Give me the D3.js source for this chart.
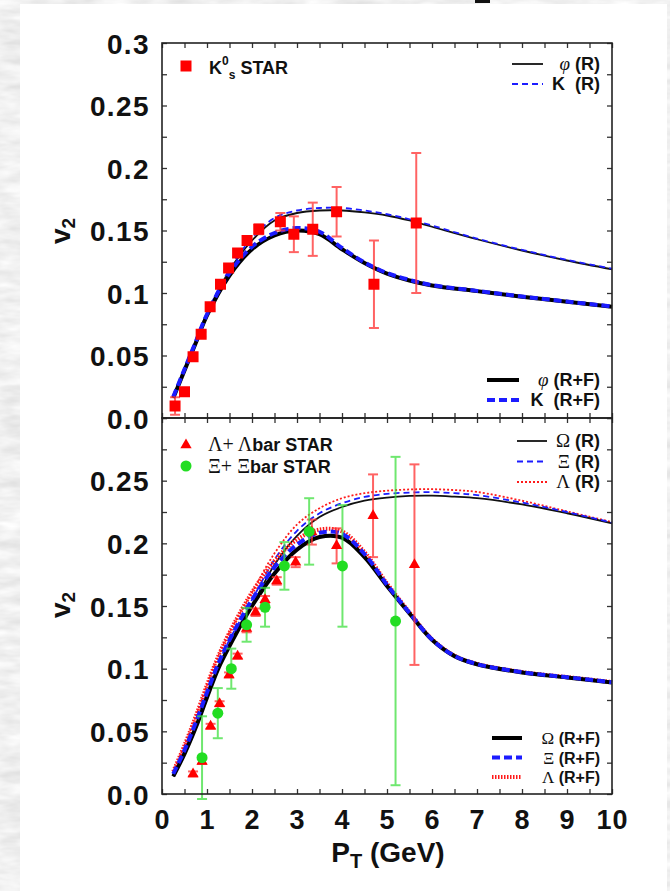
<!DOCTYPE html>
<html lang="en">
<head>
<meta charset="UTF-8">
<title>v2 vs pT</title>
<script src="https://d3js.org/d3.v7.min.js"></script>
<style>
  body { margin: 0; background: #dcdcdc; }
  svg { display: block; }
  text { font-family: "Liberation Sans", Arial, sans-serif; font-weight: bold; fill: #111; white-space: pre; }
  .greek { font-family: "Liberation Serif", "DejaVu Serif", serif; font-weight: normal; }
</style>
</head>
<body>
<svg id="chart" width="670" height="891"></svg>
<script>
// ---- axis ticks / labels ----
const xTickVals = [0, 1, 2, 3, 4, 5, 6, 7, 8, 9, 10];
const yTickValsTop = [0, 0.05, 0.1, 0.15, 0.2, 0.25, 0.3];
const yTickLabelsTop = ["0.0", "0.05", "0.1", "0.15", "0.2", "0.25", "0.3"];
const yTickValsBot = [0, 0.05, 0.1, 0.15, 0.2, 0.25];
const yTickLabelsBot = ["0.0", "0.05", "0.1", "0.15", "0.2", "0.25"];

// ---- top panel: K0s STAR data ----
const k0sPt  = [0.29, 0.5, 0.69, 0.87, 1.07, 1.3, 1.48, 1.68, 1.89, 2.15, 2.63, 2.93, 3.35, 3.88, 4.71, 5.65];
const k0sV2  = [0.0096, 0.021, 0.049, 0.067, 0.089, 0.107, 0.120, 0.132, 0.142, 0.151, 0.157, 0.147, 0.151, 0.165, 0.107, 0.156];
const k0sErr = [0.007, 0.003, 0.002, 0.002, 0.002, 0.002, 0.002, 0.003, 0.003, 0.004, 0.007, 0.0143, 0.0213, 0.0198, 0.035, 0.056];

// ---- top panel: model curves ----
const ptTop     = [0.25, 0.5, 0.75, 1, 1.5, 2, 2.5, 3, 3.5, 4, 4.5, 5, 5.5, 6, 7, 8, 9, 10];
const phiR      = [0.017, 0.039, 0.061, 0.083, 0.118, 0.142, 0.158, 0.164, 0.166, 0.166, 0.1645, 0.162, 0.158, 0.153, 0.143, 0.134, 0.126, 0.119];
const kaonR     = [0.018, 0.040, 0.062, 0.084, 0.119, 0.144, 0.160, 0.166, 0.168, 0.168, 0.166, 0.163, 0.159, 0.154, 0.1435, 0.1345, 0.1265, 0.1195];
const phiRF     = [0.016, 0.038, 0.060, 0.082, 0.114, 0.135, 0.146, 0.150, 0.147, 0.135, 0.124, 0.1155, 0.110, 0.106, 0.1015, 0.097, 0.093, 0.089];
const kaonRF    = [0.017, 0.039, 0.061, 0.083, 0.116, 0.137, 0.148, 0.152, 0.149, 0.136, 0.1245, 0.116, 0.1105, 0.1063, 0.1017, 0.0972, 0.0932, 0.0892];

// ---- bottom panel: STAR data ----
const lamPt  = [0.69, 0.89, 1.08, 1.28, 1.49, 1.68, 1.88, 2.08, 2.29, 2.55, 2.97, 3.33, 3.88, 4.69, 5.61];
const lamV2  = [0.016, 0.026, 0.054, 0.072, 0.095, 0.110, 0.132, 0.145, 0.155, 0.170, 0.185, 0.209, 0.198, 0.222, 0.183];
const lamErr = [0.002, 0.002, 0.002, 0.002, 0.002, 0.002, 0.003, 0.003, 0.003, 0.003, 0.004, 0.010, 0.014, 0.033, 0.080];
const xiPt   = [0.89, 1.24, 1.54, 1.88, 2.29, 2.72, 3.27, 4.01, 5.19];
const xiV2   = [0.029, 0.0645, 0.100, 0.135, 0.149, 0.182, 0.2095, 0.182, 0.138];
const xiErr  = [0.033, 0.020, 0.016, 0.0135, 0.0155, 0.019, 0.0265, 0.0485, 0.131];

// ---- bottom panel: model curves ----
const ptBot     = [0.25, 0.5, 0.75, 1, 1.25, 1.5, 2, 2.5, 3, 3.5, 4, 4.5, 5, 5.5, 6, 6.5, 7, 8, 9, 10];
const omegaR    = [0.014, 0.032, 0.053, 0.077, 0.100, 0.118, 0.150, 0.183, 0.206, 0.221, 0.229, 0.234, 0.2365, 0.2378, 0.238, 0.2372, 0.236, 0.231, 0.224, 0.216];
const xiR       = [0.016, 0.035, 0.057, 0.081, 0.104, 0.123, 0.155, 0.187, 0.210, 0.224, 0.232, 0.237, 0.2395, 0.2405, 0.2408, 0.240, 0.2385, 0.2325, 0.225, 0.2165];
const lambdaR   = [0.018, 0.039, 0.062, 0.087, 0.110, 0.129, 0.161, 0.192, 0.215, 0.228, 0.236, 0.240, 0.242, 0.243, 0.2432, 0.2425, 0.241, 0.234, 0.2255, 0.217];
const omegaRF   = [0.014, 0.032, 0.053, 0.077, 0.100, 0.118, 0.150, 0.176, 0.195, 0.205, 0.2045, 0.189, 0.166, 0.144, 0.123, 0.110, 0.1035, 0.097, 0.093, 0.089];
const xiRF      = [0.016, 0.035, 0.057, 0.081, 0.104, 0.123, 0.155, 0.181, 0.199, 0.2085, 0.2075, 0.1915, 0.167, 0.1445, 0.1233, 0.1102, 0.1037, 0.0972, 0.0932, 0.0892];
const lambdaRF  = [0.018, 0.039, 0.062, 0.087, 0.110, 0.129, 0.161, 0.186, 0.203, 0.211, 0.2095, 0.193, 0.168, 0.145, 0.1236, 0.1104, 0.1038, 0.0973, 0.0933, 0.0893];

// ---- legends ----
const legTopR  = [["\u03c6", " (R)"], ["K", "  (R)"]];
const legTopRF = [["\u03c6", " (R+F)"], ["K", "  (R+F)"]];
const legBotR  = [["\u03a9", " (R)"], ["\u039e", " (R)"], ["\u039b", " (R)"]];
const legBotRF = [["\u03a9", " (R+F)"], ["\u039e", " (R+F)"], ["\u039b", " (R+F)"]];

const svg = d3.select("#chart");

// textured grey background + white sheet
const defs = svg.append("defs");
const f = defs.append("filter").attr("id", "marble").attr("x", 0).attr("y", 0).attr("width", 1).attr("height", 1);
f.append("feTurbulence").attr("type", "fractalNoise").attr("baseFrequency", "0.03 0.1").attr("numOctaves", 3).attr("seed", 4);
f.append("feColorMatrix").attr("type", "matrix")
  .attr("values", "0.35 0 0 0 0.70  0.35 0 0 0 0.70  0.35 0 0 0 0.70  0 0 0 0 1");
svg.append("rect").attr("width", 670).attr("height", 891).attr("filter", "url(#marble)");
svg.append("rect").attr("x", 20).attr("y", 4).attr("width", 647).attr("height", 887).attr("fill", "#fff");
svg.append("rect").attr("x", 475).attr("y", 0).attr("width", 15).attr("height", 3).attr("fill", "#111");

// scales
const x = d3.scaleLinear().domain([0, 10]).range([162, 612]);
const yTop = d3.scaleLinear().domain([0, 0.3]).range([418, 43]);
const yBot = d3.scaleLinear().domain([0, 0.3]).range([794, 418]);

const BLUE = "#1c1cff", RED = "#ff1a1a";

function panel(y, yVals, yLabels, showX) {
  const g = svg.append("g");
  const [y0, y1] = y.range();
  const minorX = d3.range(0, 10.001, 0.5);
  const minorY = d3.range(0, 0.3001, 0.025);

  g.append("g").attr("transform", `translate(0,${y0})`)
    .call(d3.axisBottom(x).tickValues(minorX).tickSize(-5).tickFormat(""));
  g.append("g").attr("transform", `translate(0,${y1})`)
    .call(d3.axisTop(x).tickValues(minorX).tickSize(-5).tickFormat(""));
  g.append("g").attr("transform", `translate(${x(0)},0)`)
    .call(d3.axisLeft(y).tickValues(minorY).tickSize(-5).tickFormat(""));
  g.append("g").attr("transform", `translate(${x(10)},0)`)
    .call(d3.axisRight(y).tickValues(minorY).tickSize(-5).tickFormat(""));
  g.selectAll(".domain").remove();
  g.selectAll(".tick line").attr("stroke", "#333").attr("stroke-width", 1.3);

  const yl = g.append("g").attr("transform", `translate(${x(0)},0)`)
    .call(d3.axisLeft(y).tickValues(yVals).tickSize(0).tickPadding(12)
      .tickFormat((d, i) => yLabels[i]));
  yl.select(".domain").remove();
  yl.selectAll("text").attr("font-size", 28).attr("font-family", null).style("letter-spacing", "1.4px")
    .attr("dy", "0.36em");

  if (showX) {
    const xl = g.append("g").attr("transform", `translate(0,${y0})`)
      .call(d3.axisBottom(x).tickValues(xTickVals).tickSize(0).tickPadding(16).tickFormat(d3.format("d")));
    xl.select(".domain").remove();
    xl.selectAll("text").attr("font-size", 27).attr("font-family", null).style("letter-spacing", "1px");
  }
  return g;
}

function curve(y, xs, ys, color, width, dash) {
  const line = d3.line().x(d => x(d[0])).y(d => y(d[1])).curve(d3.curveCatmullRom.alpha(0.5));
  svg.append("path").datum(d3.zip(xs, ys)).attr("d", line)
    .attr("fill", "none").attr("stroke", color).attr("stroke-width", width)
    .attr("stroke-dasharray", dash || null).attr("stroke-linejoin", "round");
}

function errorBars(y, xs, ys, es, color) {
  const g = svg.append("g").attr("stroke", color).attr("stroke-width", 2).attr("opacity", 0.75);
  xs.forEach((v, i) => {
    const cx = x(v), top = y(ys[i] + es[i]), bot = y(ys[i] - es[i]);
    g.append("line").attr("x1", cx).attr("x2", cx).attr("y1", top).attr("y2", bot);
    g.append("line").attr("x1", cx - 5).attr("x2", cx + 5).attr("y1", top).attr("y2", top);
    g.append("line").attr("x1", cx - 5).attr("x2", cx + 5).attr("y1", bot).attr("y2", bot);
  });
}

function markers(y, xs, ys, type, size, color) {
  svg.append("g").selectAll("path").data(d3.zip(xs, ys)).join("path")
    .attr("transform", d => `translate(${x(d[0])},${y(d[1])})`)
    .attr("d", d3.symbol().type(type).size(size))
    .attr("fill", color);
}

function lineLegend(items, x1, x2, xEnd, yStart, step, styles, fs) {
  items.forEach((it, i) => {
    const yy = yStart + i * step, s = styles[i];
    svg.append("line").attr("x1", x1).attr("x2", x2).attr("y1", yy).attr("y2", yy)
      .attr("stroke", s[0]).attr("stroke-width", s[1]).attr("stroke-dasharray", s[2] || null);
    const t = svg.append("text").attr("x", xEnd).attr("y", yy + 6).attr("text-anchor", "end").attr("font-size", fs);
    const g = t.append("tspan").text(it[0]);
    if (it[0] !== "K") {
      g.attr("class", "greek").attr("font-size", fs + 1)
        .style("font-style", it[0] === "\u03c6" ? "italic" : "normal");
    }
    t.append("tspan").text(it[1]);
  });
}

// ---- top panel ----
panel(yTop, yTickValsTop, yTickLabelsTop, false);
curve(yTop, ptTop, phiR, "#111", 1.8);
curve(yTop, ptTop, kaonR, BLUE, 1.8, "6,4");
curve(yTop, ptTop, phiRF, "#000", 4);
curve(yTop, ptTop, kaonRF, BLUE, 4, "8,4");
errorBars(yTop, k0sPt, k0sV2, k0sErr, "#ff3030");
markers(yTop, k0sPt, k0sV2, d3.symbolSquare, 121, "#ff0000");

// ---- bottom panel ----
panel(yBot, yTickValsBot, yTickLabelsBot, true);
curve(yBot, ptBot, lambdaR, RED, 1.8, "2,2");
curve(yBot, ptBot, omegaR, "#111", 1.8);
curve(yBot, ptBot, xiR, BLUE, 1.8, "6,4");
curve(yBot, ptBot, lambdaRF, RED, 4, "1.5,1.5");
curve(yBot, ptBot, omegaRF, "#000", 4);
curve(yBot, ptBot, xiRF, BLUE, 4, "8,4");
errorBars(yBot, lamPt, lamV2, lamErr, "#ff3030");
errorBars(yBot, xiPt, xiV2, xiErr, "#40e040");
markers(yBot, lamPt, lamV2, d3.symbolTriangle, 55, "#ff0000");
markers(yBot, xiPt, xiV2, d3.symbolCircle, 95, "#22dd22");

// frames
[yTop, yBot].forEach(y => {
  svg.append("rect").attr("x", x(0)).attr("y", y(0.3)).attr("width", x(10) - x(0)).attr("height", y(0) - y(0.3))
    .attr("fill", "none").attr("stroke", "#222").attr("stroke-width", 1.6);
});

// ---- legends ----
lineLegend(legTopR, 512, 543, 600, 64, 20, [["#111", 1.8], [BLUE, 1.8, "6,4"]], 18);
lineLegend(legTopRF, 487, 519, 600, 380, 20, [["#000", 4], [BLUE, 4, "8,4"]], 18);
lineLegend(legBotR, 517, 547, 600, 441, 20.5, [["#111", 1.8], [BLUE, 1.8, "6,4"], [RED, 1.8, "2,2"]], 18);
lineLegend(legBotRF, 492, 522, 600, 738, 19.5, [["#000", 4], [BLUE, 4, "8,4"], [RED, 4, "1.5,1.5"]], 16);

// symbol legends
svg.append("path").attr("transform", "translate(186,66)").attr("d", d3.symbol().type(d3.symbolSquare).size(121)).attr("fill", "#ff0000");
const k0 = svg.append("text").attr("x", 209).attr("y", 74).attr("font-size", 18);
k0.append("tspan").text("K");
k0.append("tspan").attr("dy", -9).attr("font-size", 12).text("0");
k0.append("tspan").attr("dy", 14).attr("font-size", 12).text("s");
k0.append("tspan").attr("dy", -5).text(" STAR");

svg.append("path").attr("transform", "translate(186,445)").attr("d", d3.symbol().type(d3.symbolTriangle).size(55)).attr("fill", "#ff0000");
const lt = svg.append("text").attr("x", 208).attr("y", 451).attr("font-size", 18);
lt.append("tspan").attr("class", "greek").attr("font-size", 20).text("\u039b+ \u039b");
lt.append("tspan").text("bar STAR");

svg.append("circle").attr("cx", 186).attr("cy", 466).attr("r", 5.5).attr("fill", "#22dd22");
const xt = svg.append("text").attr("x", 208).attr("y", 473).attr("font-size", 18);
xt.append("tspan").attr("class", "greek").attr("font-size", 20).text("\u039e+ \u039e");
xt.append("tspan").text("bar STAR");

// ---- axis titles ----
const xTitle = svg.append("text").attr("x", 388).attr("y", 862).attr("text-anchor", "middle").attr("font-size", 28);
xTitle.append("tspan").text("P");
xTitle.append("tspan").attr("dy", 6).attr("font-size", 20).text("T");
xTitle.append("tspan").attr("dy", -6).text(" (GeV)");

[231, 605].forEach(cy => {
  const t = svg.append("text").attr("transform", `translate(70,${cy}) rotate(-90)`)
    .attr("text-anchor", "middle").attr("font-size", 28);
  t.append("tspan").text("v");
  t.append("tspan").attr("dy", 5).attr("font-size", 19).text("2");
});
</script>
</body>
</html>
